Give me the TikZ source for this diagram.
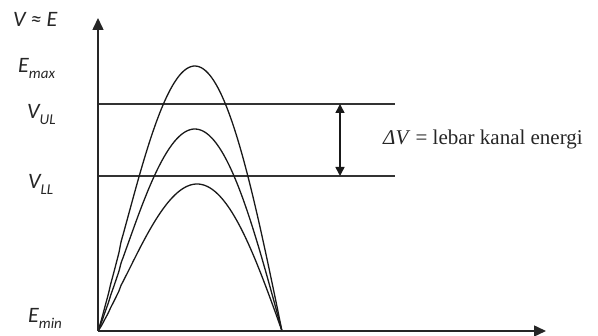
\documentclass[tikz,border=0pt]{standalone}
\usepackage{fontspec}
\setmainfont{Liberation Serif}
\newfontfamily\calfont{Carlito}
\usetikzlibrary{arrows.meta}
\tikzset{
  lbl/.style={anchor=base west, inner sep=0pt, font=\calfont\itshape\fontsize{22}{22}\selectfont, text=black!85},
  axis/.style={line width=1.5pt, draw=black!85, -{Triangle[length=12pt,width=11pt]}},
  level/.style={line width=1.4pt, draw=black!80},
  curve/.style={line width=1.3pt, draw=black!90},
  dbl/.style={line width=1.5pt, draw=black!90, {Triangle[length=9pt,width=9pt]}-{Triangle[length=9pt,width=9pt]}}
}
\newcommand{\sbs}[1]{\raisebox{-0.25em}{\fontsize{15}{15}\selectfont #1}}
\begin{document}
\begin{tikzpicture}[x=1pt,y=1pt]
\useasboundingbox (0,0) rectangle (598,336);
\coordinate (O) at (98,5);
\coordinate (Ytop) at (98,318);
\coordinate (Xend) at (546,5);
\coordinate (ULa) at (98,232);
\coordinate (ULb) at (395,232);
\coordinate (LLa) at (98,160);
\coordinate (LLb) at (395,160);
\coordinate (DAt) at (340,232);
\coordinate (DAb) at (340,160);
% levels
\draw[level] (ULa) -- (ULb);
\draw[level] (LLa) -- (LLb);
% curves
\draw[curve] (O) -- plot[domain=0.002:1,samples=90,smooth] ({98+184*\x},{5+265*sin(180*(\x)^1.08)});
\draw[curve] (O) -- plot[domain=0.002:1,samples=90,smooth] ({98+184*\x},{5+202*sin(180*(\x)^1.08)});
\draw[curve] (O) -- plot[domain=0.002:1,samples=90,smooth] ({98+184*\x},{5+147*sin(180*(\x)^1.12)});
% axes
\draw[axis] (O) -- (Ytop);
\draw[axis] (O) -- (Xend);
% double arrow
\draw[dbl] (DAt) -- (DAb);
% labels
\node[lbl] (lVE) at (13,309) {V ≈ E};
\node[lbl] (lEmax) at (18,263) {E\sbs{max}};
\node[lbl] (lVUL) at (27,217) {V\sbs{UL}};
\node[lbl] (lVLL) at (28,147) {V\sbs{LL}};
\node[lbl] (lEmin) at (28,13) {E\sbs{min}};
\node[anchor=base west, inner sep=0pt, font=\fontsize{21}{21}\selectfont, text=black!85] (dv) at (383,191) {\textit{ΔV} = lebar kanal energi};
\end{tikzpicture}
\end{document}
